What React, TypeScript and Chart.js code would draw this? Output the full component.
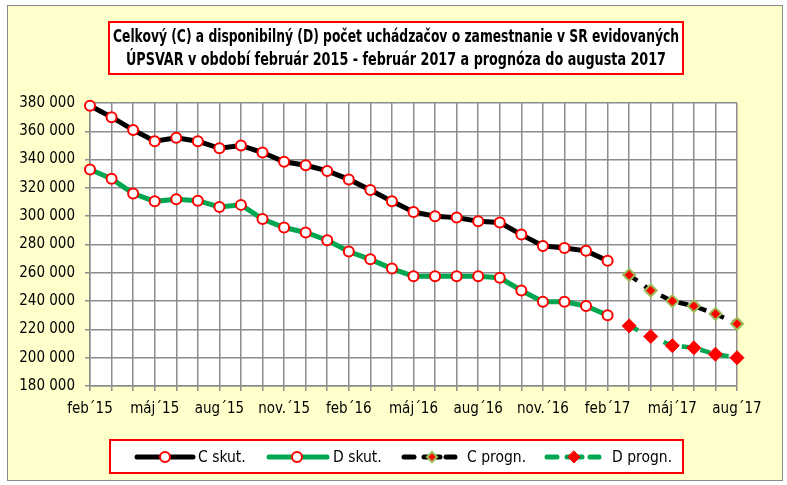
import React, { useEffect, useRef } from "react";
import { Chart, registerables } from "chart.js";

Chart.register(...registerables);

const categories = [
  "feb´15", "mar´15", "apr´15", "máj´15", "jún´15", "júl´15", "aug´15", "sep´15", "okt´15", "nov.´15", "dec´15",
  "jan´16", "feb´16", "mar´16", "apr´16", "máj´16", "jún´16", "júl´16", "aug´16", "sep´16", "okt´16", "nov.´16", "dec´16",
  "jan´17", "feb´17", "mar´17", "apr´17", "máj´17", "jún´17", "júl´17", "aug´17",
];

const cSkut = [378000, 370000, 361000, 353000, 355500, 353000, 348000, 350000, 345000, 338500, 336000, 332000, 326000,
  318500, 310500, 303000, 300000, 299000, 296500, 295500, 287000, 279000, 277500, 275500, 268500];
const dSkut = [333000, 326500, 316000, 310500, 312000, 311000, 306500, 308000, 298000, 292000, 288500, 283000, 275000,
  269500, 263000, 257500, 257500, 257500, 257500, 256500, 247500, 239500, 239500, 236500, 230000];
const cProgn = [258500, 247500, 240000, 236500, 231000, 224000];
const dProgn = [222500, 215000, 208500, 207000, 202500, 200000];

const titleLines = [
  "Celkový (C) a disponibilný (D) počet uchádzačov o zamestnanie v SR evidovaných",
  "ÚPSVAR v období február 2015 - február 2017 a prognóza do augusta 2017",
];
const legendLabels = ["C skut.", "D skut.", "C progn.", "D progn."];

const FONT = '"Liberation Sans Narrow", "Arial Narrow", "DejaVu Sans Condensed", sans-serif';
const GREEN = "#00a650";
const GRID = "#8c8c8c";

const padSkut = (arr: number[]) => [...arr, ...Array(categories.length - arr.length).fill(null)];
const padProgn = (arr: number[]) => [...Array(categories.length - arr.length).fill(null), ...arr];

const fmt = (v: number) => {
  const s = Math.round(v).toString();
  return s.replace(/\B(?=(\d{3})+(?!\d))/g, " ");
};

function drawDiamond(ctx: CanvasRenderingContext2D, x: number, y: number, r: number, fill: string, stroke: string, lw: number) {
  ctx.beginPath();
  ctx.moveTo(x, y - r);
  ctx.lineTo(x + r, y);
  ctx.lineTo(x, y + r);
  ctx.lineTo(x - r, y);
  ctx.closePath();
  ctx.fillStyle = fill;
  ctx.fill();
  ctx.lineWidth = lw;
  ctx.strokeStyle = stroke;
  ctx.stroke();
}

const decorPlugin = {
  id: "decor",
  beforeDraw(chart: any) {
    const { ctx, width, height, chartArea } = chart;
    ctx.save();
    ctx.fillStyle = "#ffffff";
    ctx.fillRect(0, 0, width, height);
    ctx.fillStyle = "#ffffcc";
    ctx.fillRect(7, 5, 776, 476);
    ctx.strokeStyle = "#8a8a8a";
    ctx.lineWidth = 1;
    ctx.strokeRect(7.5, 5.5, 775, 475);
    ctx.fillStyle = "#ffffff";
    ctx.fillRect(chartArea.left, chartArea.top, chartArea.right - chartArea.left, chartArea.bottom - chartArea.top);
    ctx.restore();
  },
  afterDraw(chart: any) {
    const { ctx } = chart;
    ctx.save();
    // Title box
    ctx.fillStyle = "#ffffff";
    ctx.fillRect(109, 22, 574, 52);
    ctx.strokeStyle = "#ff0000";
    ctx.lineWidth = 2;
    ctx.strokeRect(109, 22, 574, 52);
    ctx.fillStyle = "#000000";
    ctx.font = `bold 18px ${FONT}`;
    ctx.textAlign = "center";
    ctx.textBaseline = "middle";
    ctx.fillText(titleLines[0], 396, 37, 566);
    ctx.fillText(titleLines[1], 396, 60, 540);

    // Legend box
    const ly = 457;
    ctx.fillStyle = "#ffffff";
    ctx.fillRect(110, 440, 573, 33);
    ctx.strokeStyle = "#ff0000";
    ctx.lineWidth = 2;
    ctx.strokeRect(110, 440, 573, 33);

    ctx.lineCap = "round";
    // item 1
    ctx.strokeStyle = "#000000";
    ctx.lineWidth = 5;
    ctx.beginPath(); ctx.moveTo(137, ly); ctx.lineTo(193, ly); ctx.stroke();
    ctx.beginPath(); ctx.arc(165, ly, 5, 0, Math.PI * 2);
    ctx.fillStyle = "#fff"; ctx.fill(); ctx.lineWidth = 2; ctx.strokeStyle = "#ff0000"; ctx.stroke();
    // item 2
    ctx.strokeStyle = GREEN;
    ctx.lineWidth = 5;
    ctx.beginPath(); ctx.moveTo(269, ly); ctx.lineTo(327, ly); ctx.stroke();
    ctx.beginPath(); ctx.arc(297, ly, 5, 0, Math.PI * 2);
    ctx.fillStyle = "#fff"; ctx.fill(); ctx.lineWidth = 2; ctx.strokeStyle = "#ff0000"; ctx.stroke();
    // item 3
    ctx.strokeStyle = "#000000";
    ctx.lineWidth = 5;
    ctx.beginPath(); ctx.moveTo(404, ly); ctx.lineTo(414, ly); ctx.stroke();
    ctx.beginPath(); ctx.moveTo(424, ly); ctx.lineTo(440, ly); ctx.stroke();
    ctx.beginPath(); ctx.moveTo(446, ly); ctx.lineTo(455, ly); ctx.stroke();
    drawDiamond(ctx, 432, ly, 5, "#ff0000", "#9bbb59", 2);
    // item 4
    ctx.strokeStyle = GREEN;
    ctx.lineWidth = 5;
    ctx.beginPath(); ctx.moveTo(547, ly); ctx.lineTo(557, ly); ctx.stroke();
    ctx.beginPath(); ctx.moveTo(567, ly); ctx.lineTo(582, ly); ctx.stroke();
    ctx.beginPath(); ctx.moveTo(590, ly); ctx.lineTo(599, ly); ctx.stroke();
    drawDiamond(ctx, 574, ly, 6, "#ff0000", "#ff0000", 1);

    ctx.fillStyle = "#000000";
    ctx.font = `15.5px ${FONT}`;
    ctx.textAlign = "left";
    ctx.textBaseline = "middle";
    ctx.fillText(legendLabels[0], 198, ly + 1);
    ctx.fillText(legendLabels[1], 333, ly + 1);
    ctx.fillText(legendLabels[2], 467, ly + 1);
    ctx.fillText(legendLabels[3], 612, ly + 1);
    ctx.restore();
  },
};

export default function App() {
  const ref = useRef<HTMLCanvasElement>(null);
  useEffect(() => {
    document.body.style.margin = "0";
    const chart = new Chart(ref.current as HTMLCanvasElement, {
      type: "line",
      data: {
        labels: categories,
        datasets: [
          {
            label: legendLabels[0],
            data: padSkut(cSkut),
            borderColor: "#000000",
            borderWidth: 5,
            pointStyle: "circle",
            pointRadius: 5,
            pointBorderWidth: 2,
            pointBorderColor: "#ff0000",
            pointBackgroundColor: "#ffffff",
            clip: false,
          },
          {
            label: legendLabels[1],
            data: padSkut(dSkut),
            borderColor: GREEN,
            borderWidth: 5,
            pointStyle: "circle",
            pointRadius: 5,
            pointBorderWidth: 2,
            pointBorderColor: "#ff0000",
            pointBackgroundColor: "#ffffff",
            clip: false,
          },
          {
            label: legendLabels[2],
            data: padProgn(cProgn),
            borderColor: "#000000",
            borderWidth: 4.5,
            borderDash: [10, 9],
            pointStyle: "rectRot",
            pointRadius: 6,
            pointBorderWidth: 2,
            pointBorderColor: "#9bbb59",
            pointBackgroundColor: "#ff0000",
            clip: false,
          },
          {
            label: legendLabels[3],
            data: padProgn(dProgn),
            borderColor: GREEN,
            borderWidth: 4.5,
            borderDash: [10, 9],
            pointStyle: "rectRot",
            pointRadius: 7,
            pointBorderWidth: 1,
            pointBorderColor: "#ff0000",
            pointBackgroundColor: "#ff0000",
            clip: false,
          },
        ],
      },
      options: {
        animation: false,
        responsive: false,
        devicePixelRatio: 1,
        spanGaps: false,
        layout: { padding: { top: 103, right: 50, bottom: 59, left: 0 } },
        plugins: {
          legend: { display: false },
          title: { display: false },
          tooltip: { enabled: false },
        },
        elements: { line: { tension: 0 } },
        scales: {
          x: {
            type: "category",
            offset: false,
            afterFit: (s: any) => { s.height = 40; },
            grid: { color: GRID, lineWidth: 1.5, tickLength: 5, drawTicks: true },
            border: { color: GRID, width: 1.5 },
            ticks: {
              autoSkip: false,
              maxRotation: 0,
              minRotation: 0,
              padding: 9,
              color: "#000000",
              font: { family: FONT, size: 15 },
              callback: (_v: any, i: number) => (i % 3 === 0 ? categories[i] : ""),
            },
          },
          y: {
            min: 180000,
            max: 380000,
            afterFit: (s: any) => { s.width = 90; },
            grid: { color: GRID, lineWidth: 1.5, tickLength: 5 },
            border: { color: GRID, width: 1.5 },
            ticks: {
              stepSize: 20000,
              padding: 10,
              color: "#000000",
              font: { family: FONT, size: 15 },
              callback: (v: any) => fmt(Number(v)),
            },
          },
        },
      },
      plugins: [decorPlugin],
    } as any);
    return () => chart.destroy();
  }, []);
  return <canvas ref={ref} width={787} height={485} style={{ display: "block" }} />;
}
